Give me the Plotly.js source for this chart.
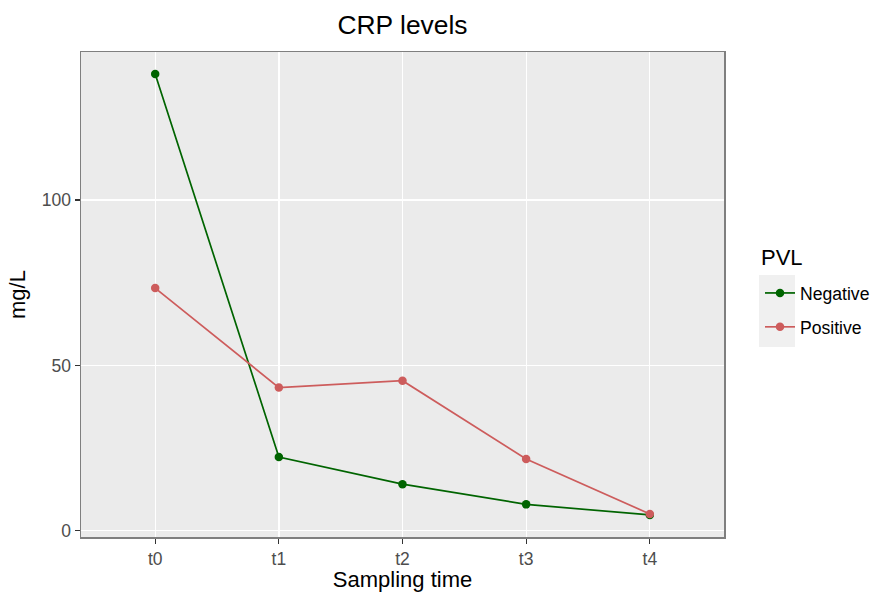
<!DOCTYPE html>
<html>
<head>
<meta charset="utf-8">
<script src="https://cdn.plot.ly/plotly-3.0.1.min.js"></script>
<style>html,body{margin:0;padding:0;background:#fff;}#chart{width:880px;height:592px;}</style>
</head>
<body>
<div id="chart"></div>
<script>
const times = ["t0", "t1", "t2", "t3", "t4"];
const negative = [138.1, 22.3, 14.1, 8.0, 4.8];
const positive = [73.4, 43.3, 45.4, 21.7, 5.1];
const seriesNames = ["Negative", "Positive"];
const legendTitle = "PVL";
const colors = ["#006400", "#CD5C5C"];
const yTicks = [0, 50, 100];

const allVals = negative.concat(positive);
const vmin = Math.min(...allVals), vmax = Math.max(...allVals);
const pad = (vmax - vmin) * 0.05;

const FONT = "Liberation Sans, Arial, Helvetica, sans-serif";

const traces = [negative, positive].map((vals, i) => ({
  x: times, y: vals, type: "scatter", mode: "lines+markers",
  name: seriesNames[i], legendgroup: seriesNames[i],
  line: {color: colors[i], width: 1.7},
  marker: {color: colors[i], size: 8.5}
}));

const axisCommon = {
  showline: true, mirror: true, linecolor: "#7f7f7f", linewidth: 1.5,
  gridcolor: "#ffffff", gridwidth: 1.3, zeroline: false,
  ticks: "outside", ticklen: 5, tickcolor: "#333333", tickwidth: 1.2,
  tickfont: {family: FONT, size: 17.5, color: "#4d4d4d"}
};

const layout = {
  width: 880, height: 592,
  paper_bgcolor: "#ffffff", plot_bgcolor: "#ebebeb",
  margin: {l: 81, r: 156, t: 52, b: 55},
  title: {text: "CRP levels", xref: "paper", x: 0.5, xanchor: "center",
          yref: "container", y: 0.958, yanchor: "middle",
          font: {family: FONT, size: 26.4, color: "#000"}},
  xaxis: Object.assign({}, axisCommon, {
    type: "category", range: [-0.6, times.length - 0.4],
    title: {text: "Sampling time", standoff: 2,
            font: {family: FONT, size: 22, color: "#000"}}
  }),
  yaxis: Object.assign({}, axisCommon, {
    range: [vmin - pad, vmax + pad], tickvals: yTicks,
    title: {text: "mg/L", standoff: 10,
            font: {family: FONT, size: 22, color: "#000"}}
  }),
  showlegend: true,
  legend: {
    xref: "container", yref: "container",
    x: 760 / 880, xanchor: "left", y: 1 - 275 / 592, yanchor: "top",
    bgcolor: "rgba(0,0,0,0)", traceorder: "grouped", tracegroupgap: 8,
    itemwidth: 30,
    font: {family: FONT, size: 17.6, color: "#000"}
  },
  annotations: [{
    text: legendTitle, showarrow: false,
    xref: "paper", yref: "paper", x: 1.0544, xanchor: "left",
    y: 0.5753, yanchor: "middle",
    font: {family: FONT, size: 22, color: "#000"}
  }],
  shapes: [{
    type: "rect", xref: "paper", yref: "paper", layer: "below",
    x0: 1.0544, x1: 1.1104, y0: 0.3918, y1: 0.540,
    fillcolor: "#f0f0f0", line: {width: 0}
  }]
};

Plotly.newPlot("chart", traces, layout, {displayModeBar: false, staticPlot: true});
</script>
</body>
</html>
